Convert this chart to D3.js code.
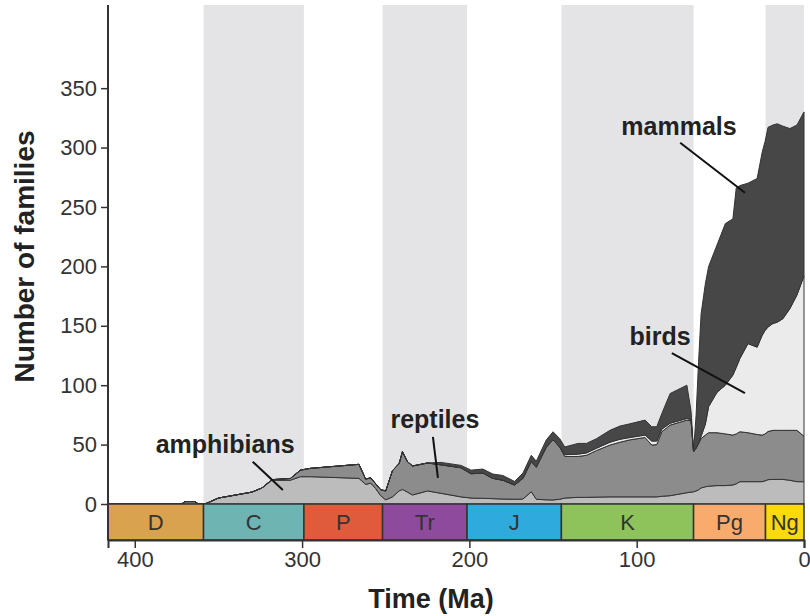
<!DOCTYPE html>
<html>
<head>
<meta charset="utf-8">
<script src="https://cdn.jsdelivr.net/npm/d3@7/dist/d3.min.js"></script>
<style>
  body { margin: 0; background: #fff; }
  svg text { font-family: "Liberation Sans", Arial, Helvetica, sans-serif; }
</style>
</head>
<body>
<div id="chart"></div>
<script>
// tiempos (Ma) y número de familias por grupo en cada tiempo
const tiempos = [416, 372, 370, 364, 362, 358, 350, 342, 330, 324, 318, 307, 301, 295, 266, 262, 259, 256, 253, 250,
  246, 242, 240, 237, 234, 225, 217, 205, 199, 192, 186, 180, 173, 168, 163, 160, 154, 150, 146, 143,
  135, 130, 124, 116, 110, 104, 95, 91, 88, 85, 80, 70, 67.5, 66, 64.5, 63, 61.5, 59, 57, 52,
  47, 42.5, 40.5, 38.3, 33.5, 28, 25, 23.3, 21.5, 18.5, 16, 12.6, 8.4, 4.2, 0]

const anfibios = [0, 0, 2, 2, 0, 0, 5, 7, 10, 13.5, 20, 20, 23, 23, 21.6, 16.5, 17.6, 13, 7, 3.5,
  6, 11, 12.3, 10, 7.6, 11, 9, 6, 5, 4.8, 4.5, 4.2, 4, 4.2, 10.3, 4, 3.5, 3.4, 4, 5,
  5.6, 5.6, 5.8, 6, 6, 6, 6, 6, 6, 6.5, 7, 9.5, 10, 10.3, 11, 12, 13.5, 14.5, 15, 15.5,
  15.5, 16, 17, 18.8, 18.8, 18.8, 18.8, 19.5, 20.5, 20.7, 20.7, 20.7, 20, 18.8, 18.8]

const reptiles = [0, 0, 0, 0, 0, 0, 0, 0, 0, 0, 0.5, 1.5, 5.5, 7, 11.8, 4.5, 4.4, 4, 5, 7.5,
  22, 23, 31.7, 25.6, 24.4, 23.5, 24, 24.5, 20.5, 21.2, 17.1, 15.8, 12, 17.4, 25.7, 27, 44.5, 50.6, 44, 35,
  34.4, 35.4, 39.2, 43.6, 46, 48, 50, 43.6, 44, 54.3, 59.4, 61.1, 60, 33.7, 36, 39, 41.5, 43.5, 45, 44.5,
  43.5, 42, 42, 42, 41.2, 39.7, 39.2, 39.5, 40.5, 41.3, 41.3, 41.3, 42, 43.2, 38.2]

const aves = [0, 0, 0, 0, 0, 0, 0, 0, 0, 0, 0, 0, 0, 0, 0, 0, 0, 0, 0, 0,
  0, 0, 0, 0, 0, 0, 0, 0, 0, 0, 0, 0, 0, 0, 0, 0, 0, 0, 0, 1.5,
  2, 2, 2, 2.4, 2.5, 2, 2, 3.4, 3, 2.2, 1.6, 1.4, 1, 0, 0, 0, 2, 9, 22, 34,
  41, 50.5, 56, 61.7, 75, 73.5, 84, 87, 88, 90, 91, 94, 102.5, 114, 135]

const mamiferos = [0, 0, 0, 0, 0, 0, 0, 0, 0, 0, 0, 0, 0, 0, 0, 0, 0, 0, 0, 0,
  0, 0, 0, 0, 0, 0, 2, 2, 3, 3.4, 3.6, 4, 3, 4.4, 5, 5, 6, 6.8, 7, 6.5,
  9, 8, 8, 10, 11.1, 11.5, 12.6, 12, 12, 13, 25, 28, 7, 0, 28, 69, 103, 118, 118, 124,
  136, 131.5, 151, 145.5, 135, 142, 154, 159, 168, 167, 167, 162, 151.5, 143, 138]

const grupos = ["anfibios", "reptiles", "aves", "mamiferos"]
const coloresGrupos = ["#bcbcbc", "#8c8c8c", "#ebebeb", "#474747"]

// periodos geológicos
const periodos = ["D", "C", "P", "Tr", "J", "K", "Pg", "Ng"]
const inicioPeriodo = [419.2, 358.9, 298.9, 251.9, 201.4, 145, 66, 23]
const finPeriodo = [358.9, 298.9, 251.9, 201.4, 145, 66, 23, 0]
const coloresPeriodo = ["#d9a24f", "#6db4b2", "#e05b3c", "#8e4a9d", "#2eaadd", "#8ec35b", "#f9ab6e", "#fad90f"]
const periodosSombreados = ["C", "Tr", "K", "Ng"]

const ticksY = [0, 50, 100, 150, 200, 250, 300, 350]
const ticksX = [400, 300, 200, 100, 0]

const ancho = 810
const alto = 616
const margen = { izquierdo: 108, derecho: 6, superior: 5, inferior: 112 }
const altoBarra = 36

const svg = d3.select("#chart").append("svg").attr("width", ancho).attr("height", alto)

const x = d3.scaleLinear().domain([416, 0]).range([margen.izquierdo, ancho - margen.derecho])
const y = d3.scaleLinear().domain([0, 420]).range([alto - margen.inferior, margen.superior])

const datos = tiempos.map((t, i) => ({
  t: t,
  anfibios: anfibios[i],
  reptiles: reptiles[i],
  aves: aves[i],
  mamiferos: mamiferos[i]
}))

// bandas grises de fondo
const periodosDatos = periodos.map((p, i) => ({ nombre: p, inicio: Math.min(inicioPeriodo[i], 416), fin: finPeriodo[i], color: coloresPeriodo[i] }))

svg.append("g").selectAll("rect")
  .data(periodosDatos.filter(d => periodosSombreados.includes(d.nombre)))
  .enter().append("rect")
  .attr("x", d => x(d.inicio))
  .attr("width", d => x(d.fin) - x(d.inicio))
  .attr("y", y(420))
  .attr("height", y(0) - y(420))
  .attr("fill", "#e4e4e6")

// áreas apiladas
const pila = d3.stack().keys(grupos)(datos)
const area = d3.area()
  .x(d => x(d.data.t))
  .y0(d => y(d[0]))
  .y1(d => y(d[1]))

svg.append("g").selectAll("path")
  .data(pila)
  .enter().append("path")
  .attr("d", area)
  .attr("fill", (d, i) => coloresGrupos[i])
  .attr("stroke", "#333")
  .attr("stroke-width", 1)
  .attr("stroke-linejoin", "round")

// barra de periodos
const grupoBarra = svg.append("g")
grupoBarra.selectAll("rect")
  .data(periodosDatos)
  .enter().append("rect")
  .attr("x", d => x(d.inicio))
  .attr("width", d => x(d.fin) - x(d.inicio))
  .attr("y", y(0))
  .attr("height", altoBarra)
  .attr("fill", d => d.color)
  .attr("stroke", "#333")
  .attr("stroke-width", 1.5)

grupoBarra.selectAll("text")
  .data(periodosDatos)
  .enter().append("text")
  .attr("x", d => (x(d.inicio) + x(d.fin)) / 2)
  .attr("y", y(0) + altoBarra / 2 + 8)
  .attr("text-anchor", "middle")
  .attr("font-size", 22)
  .attr("fill", "#333")
  .text(d => d.nombre)

// ejes
const ejeY = d3.axisLeft(y).tickValues(ticksY).tickSize(7).tickPadding(4)
const grupoY = svg.append("g").attr("transform", `translate(${margen.izquierdo}, 0)`).call(ejeY)
grupoY.select(".domain").remove()
grupoY.append("line").attr("x1", 0).attr("x2", 0).attr("y1", y(420)).attr("y2", y(0) + altoBarra)
  .attr("stroke", "#333").attr("stroke-width", 2)
grupoY.selectAll(".tick line").attr("stroke", "#333").attr("stroke-width", 1.5)
grupoY.selectAll(".tick text").attr("font-size", 22).attr("fill", "#333")
  .attr("font-family", "Liberation Sans, Arial, sans-serif")

const ejeX = d3.axisBottom(x).tickValues(ticksX).tickSize(8).tickPadding(3)
const grupoX = svg.append("g").attr("transform", `translate(0, ${y(0) + altoBarra})`).call(ejeX)
grupoX.select(".domain").attr("stroke", "#333").attr("stroke-width", 2)
grupoX.selectAll(".tick line").attr("stroke", "#333").attr("stroke-width", 1.5)
grupoX.selectAll(".tick text").attr("font-size", 22).attr("fill", "#333")
  .attr("font-family", "Liberation Sans, Arial, sans-serif")

// títulos de ejes
svg.append("text")
  .attr("transform", `translate(34, ${(y(0) + y(420)) / 2 + 2}) rotate(-90)`)
  .attr("text-anchor", "middle")
  .attr("font-size", 28)
  .attr("font-weight", "bold")
  .attr("fill", "#222")
  .text("Number of families")

svg.append("text")
  .attr("x", 431)
  .attr("y", 608)
  .attr("text-anchor", "middle")
  .attr("font-size", 27)
  .attr("font-weight", "bold")
  .attr("fill", "#222")
  .text("Time (Ma)")

// etiquetas de los grupos con su línea
const etiquetas = [
  { texto: "mammals", t: 74.7, v: 311, t1: 74, v1: 304, t2: 35.3, v2: 262 },
  { texto: "birds", t: 86, v: 134, t1: 79, v1: 127, t2: 35.3, v2: 93.4 },
  { texto: "reptiles", t: 220.6, v: 64, t1: 221.8, v1: 56.4, t2: 218.8, v2: 21.9 },
  { texto: "amphibians", t: 346, v: 43, t1: 329.5, v1: 35.6, t2: 311.5, v2: 11.8 }
]

const grupoEtiquetas = svg.append("g")
grupoEtiquetas.selectAll("line")
  .data(etiquetas)
  .enter().append("line")
  .attr("x1", d => x(d.t1)).attr("y1", d => y(d.v1))
  .attr("x2", d => x(d.t2)).attr("y2", d => y(d.v2))
  .attr("stroke", "#111").attr("stroke-width", 2)

grupoEtiquetas.selectAll("text")
  .data(etiquetas)
  .enter().append("text")
  .attr("x", d => x(d.t))
  .attr("y", d => y(d.v))
  .attr("text-anchor", "middle")
  .attr("font-size", 25)
  .attr("font-weight", "bold")
  .attr("fill", "#222")
  .text(d => d.texto)
</script>
</body>
</html>
